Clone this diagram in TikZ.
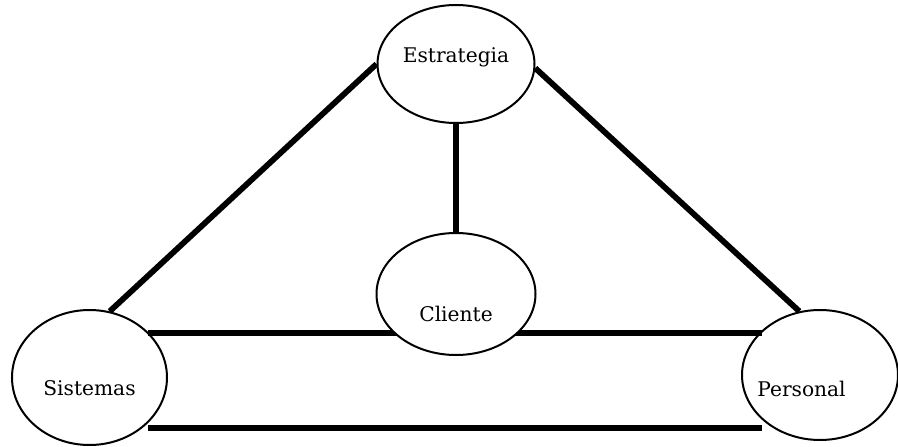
\documentclass[tikz,border=0pt]{standalone}
\usepackage{fontspec}
\setmainfont{DejaVu Serif}
\usetikzlibrary{shapes.geometric}
\tikzset{
  ov/.style={draw=black, line width=2pt, ellipse, fill=white, inner sep=0pt},
  conn/.style={draw=black, line width=5.8pt},
  lab/.style={anchor=base, font=\fontsize{20.2}{24}\selectfont, inner sep=0pt}
}
\begin{document}
\begin{tikzpicture}[x=1pt, y=-1pt]
\useasboundingbox (0,0) rectangle (898,447);
% ellipses
\node[ov, minimum width=157pt, minimum height=118pt] (E) at (456,64) {};
\node[ov, minimum width=155pt, minimum height=135pt] (S) at (89.5,377.5) {};
\node[ov, minimum width=156pt, minimum height=130pt] (P) at (820,375) {};
% connectors behind Cliente
\coordinate (h1) at (148,333);
\coordinate (h2) at (762,333);
\coordinate (b1) at (148,428);
\coordinate (b2) at (762,428);
\draw[conn] (E.180) -- (S.73);
\draw[conn] (E.-3) -- (P.108);
\draw[conn] (h1) -- (h2);
\draw[conn] (b1) -- (b2);
\node[ov, minimum width=159pt, minimum height=122pt] (C) at (456,294) {};
\draw[conn] (E.south) -- (C.north);
% labels
\node[lab] (tE) at (456,62) {Estrategia};
\node[lab] (tC) at (456,321) {Cliente};
\node[lab] (tS) at (89.5,395) {Sistemas};
\node[lab] (tP) at (801.5,396) {Personal};
\end{tikzpicture}
\end{document}
